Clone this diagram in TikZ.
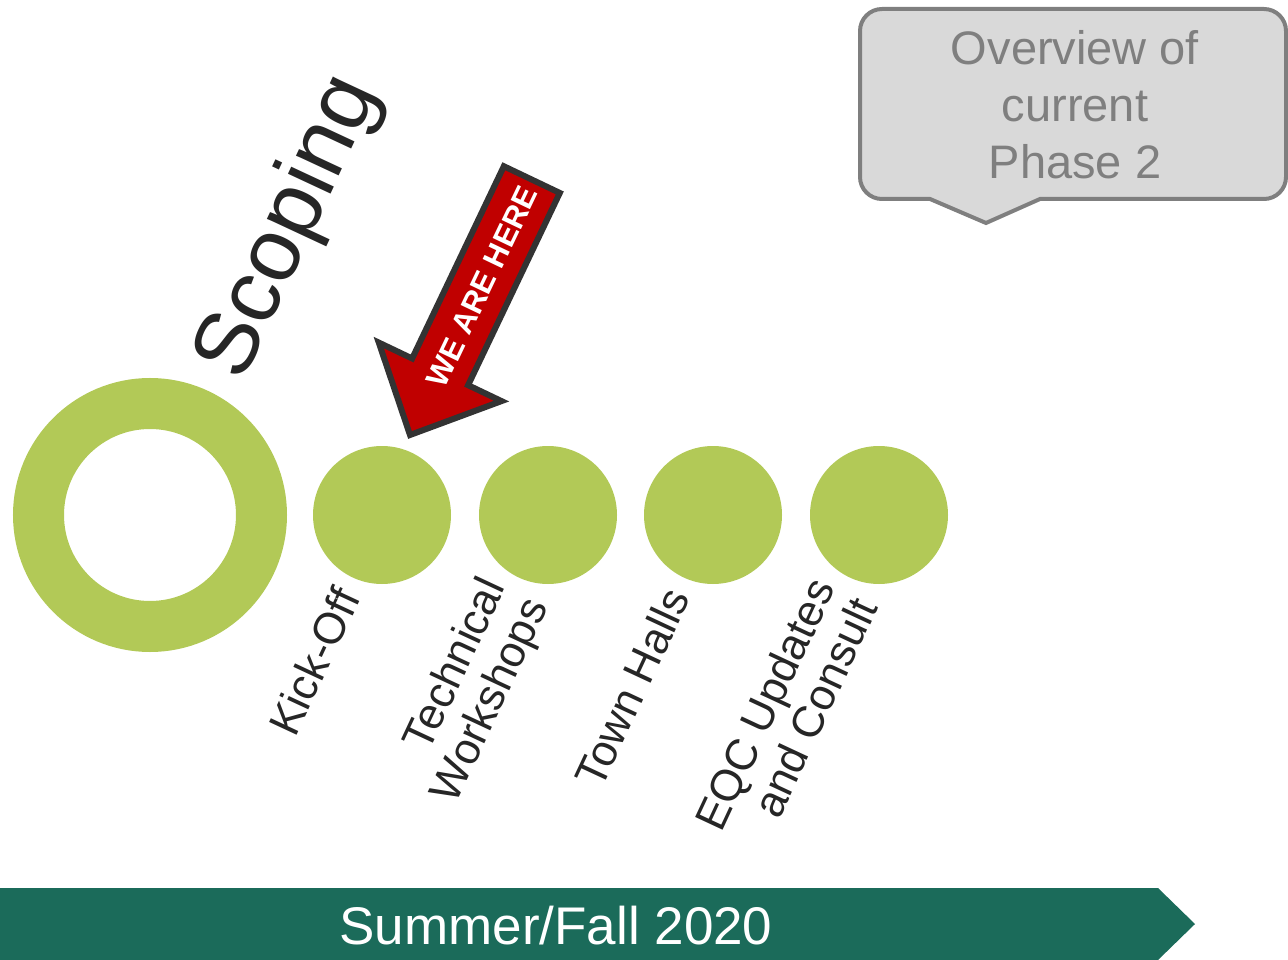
\documentclass[tikz,border=0pt]{standalone}
\usepackage{fontspec}
\setmainfont{Liberation Sans}
\definecolor{lime}{HTML}{B2C957}
\definecolor{bannergreen}{HTML}{1B6B5A}
\definecolor{arrowred}{HTML}{C00000}
\definecolor{arrowedge}{HTML}{333333}
\definecolor{calloutfill}{HTML}{D9D9D9}
\definecolor{calloutgray}{HTML}{7F7F7F}
\definecolor{labeltext}{HTML}{262626}
\begin{document}
\begin{tikzpicture}[x=1pt,y=1pt,
  dot/.style={circle,fill=lime,minimum size=138pt,inner sep=0pt},
  steplabel/.style={rotate=65,anchor=east,inner sep=0pt,align=right,text=labeltext,
    font=\fontsize{44}{47}\selectfont},
]
\useasboundingbox (0,0) rectangle (1288,-960);

% big ring
\node[circle,draw=lime,line width=51pt,minimum size=223pt,inner sep=0pt] (ring) at (150,-515) {};
\node[rotate=65,inner sep=0pt,text=labeltext,font=\fontsize{89}{95}\selectfont] (scoping) at (290,-228) {Scoping};

% small dots
\node[dot] (d1) at (382,-515) {};
\node[dot] (d2) at (548,-515) {};
\node[dot] (d3) at (713,-515) {};
\node[dot] (d4) at (879,-515) {};

% labels
\node[steplabel] (l1) at (347,-591) {Kick-Off};
\node[steplabel] (l2) at (517,-592) {Technical\\Workshops};
\node[steplabel] (l3) at (677,-591) {Town Halls};
\node[steplabel] (l4) at (843,-591) {EQC Updates\\and Consult};

% WE ARE HERE arrow
\begin{scope}[shift={(410,-435)},rotate=64.5]
  \draw[fill=arrowred,draw=arrowedge,line width=6pt,line join=miter]
    (0,0) -- (70,68) -- (70,31) -- (283,31) -- (283,-31) -- (70,-31) -- (70,-68) -- cycle;
  \node[rotate=64.5,text=white,inner sep=0pt,font=\bfseries\fontsize{31}{32}\selectfont] (here) at (165,-1) {WE ARE HERE};
\end{scope}

% callout
\draw[fill=calloutfill,draw=calloutgray,line width=4pt,rounded corners=22pt]
  (860,-9) -- (1286,-9) -- (1286,-199) [sharp corners] -- (1040,-199) -- (986,-223) -- (930,-199) [rounded corners=22pt] -- (860,-199) -- cycle;
\node[text=calloutgray,align=center,inner sep=0pt,font=\fontsize{47}{57}\selectfont] (callout) at (1075,-105) {Overview of\\current\\Phase 2};

% banner
\fill[bannergreen] (0,-888) -- (1158,-888) -- (1195,-924) -- (1158,-960) -- (0,-960) -- cycle;
\node[text=white,inner sep=0pt,font=\fontsize{53}{60}\selectfont] (season) at (556,-926) {Summer/Fall 2020};
\end{tikzpicture}
\end{document}
